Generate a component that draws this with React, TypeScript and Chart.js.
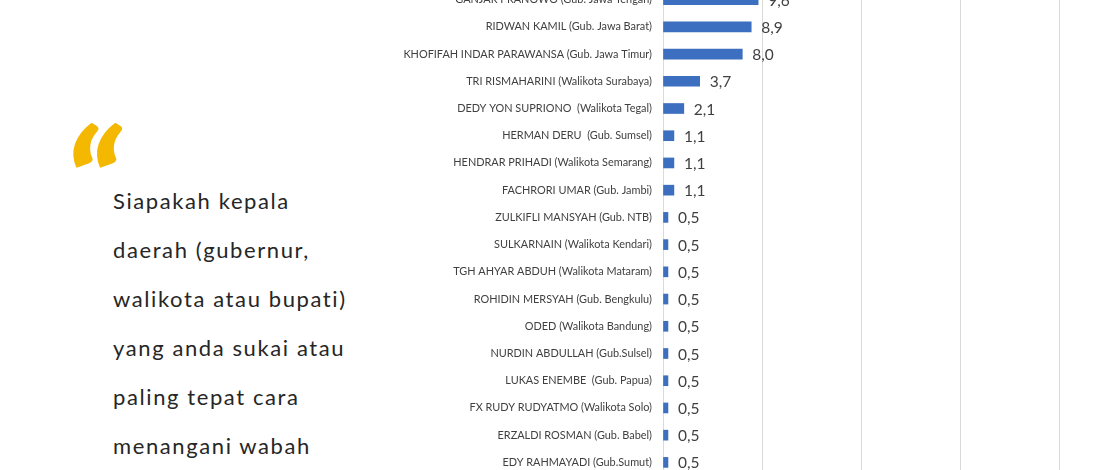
import React, { useEffect, useRef } from "react";
import { Chart, registerables } from "chart.js";

Chart.register(...registerables);

const categories: string[] = [
  "GANJAR PRANOWO (Gub. Jawa Tengah)",
  "RIDWAN KAMIL (Gub. Jawa Barat)",
  "KHOFIFAH INDAR PARAWANSA (Gub. Jawa Timur)",
  "TRI RISMAHARINI (Walikota Surabaya)",
  "DEDY YON SUPRIONO  (Walikota Tegal)",
  "HERMAN DERU  (Gub. Sumsel)",
  "HENDRAR PRIHADI (Walikota Semarang)",
  "FACHRORI UMAR (Gub. Jambi)",
  "ZULKIFLI MANSYAH (Gub. NTB)",
  "SULKARNAIN (Walikota Kendari)",
  "TGH AHYAR ABDUH (Walikota Mataram)",
  "ROHIDIN MERSYAH (Gub. Bengkulu)",
  "ODED (Walikota Bandung)",
  "NURDIN ABDULLAH (Gub.Sulsel)",
  "LUKAS ENEMBE  (Gub. Papua)",
  "FX RUDY RUDYATMO (Walikota Solo)",
  "ERZALDI ROSMAN (Gub. Babel)",
  "EDY RAHMAYADI (Gub.Sumut)",
];

const values: number[] = [
  9.6, 8.9, 8.0, 3.7, 2.1, 1.1, 1.1, 1.1, 0.5, 0.5, 0.5, 0.5, 0.5, 0.5, 0.5, 0.5, 0.5, 0.5,
];

const questionLines: string[] = [
  "Siapakah kepala",
  "daerah (gubernur,",
  "walikota atau bupati)",
  "yang anda sukai atau",
  "paling tepat cara",
  "menangani wabah",
];

const xMin = 0;
const xMax = 45;
const xStep = 10;

const valueLabelPlugin = {
  id: "valueLabels",
  afterDatasetsDraw(chart: any) {
    const ctx = chart.ctx;
    const meta = chart.getDatasetMeta(0);
    ctx.save();
    ctx.font = "15.5px Lato";
    ctx.fillStyle = "#404040";
    ctx.textAlign = "left";
    ctx.textBaseline = "middle";
    meta.data.forEach((bar: any, i: number) => {
      const v = chart.data.datasets[0].data[i] as number;
      ctx.fillText(v.toFixed(1).replace(".", ","), bar.x + 10, bar.y + 1);
    });
    ctx.restore();
  },
};

function BarChart() {
  const ref = useRef<HTMLCanvasElement | null>(null);
  useEffect(() => {
    if (!ref.current) return;
    const chart = new Chart(ref.current, {
      type: "bar",
      data: {
        labels: categories,
        datasets: [
          {
            data: values,
            backgroundColor: "#3d6fc0",
            barThickness: 10,
          },
        ],
      },
      options: {
        indexAxis: "y",
        animation: false,
        responsive: false,
        maintainAspectRatio: false,
        layout: { padding: 0 },
        plugins: {
          legend: { display: false },
          tooltip: { enabled: false },
        },
        scales: {
          x: {
            min: xMin,
            max: xMax,
            ticks: { display: false, stepSize: xStep },
            border: { display: false },
            afterFit: (scale: any) => {
              scale.height = 0;
            },
            grid: {
              drawTicks: false,
              color: (c: any) =>
                c.tick && (c.tick.value === xMin || c.tick.value === xMax)
                  ? "rgba(0,0,0,0)"
                  : "#d9d9d9",
            },
          },
          y: {
            afterFit: (scale: any) => {
              scale.width = 293;
              scale.paddingTop = 0;
              scale.paddingBottom = 0;
            },
            border: { display: true, color: "#d3dcec", width: 1 },
            grid: { display: false, drawTicks: false },
            ticks: {
              padding: 11,
              color: "#404040",
              font: { family: "Lato", size: 10.9 },
              autoSkip: false,
            },
          },
        },
      },
      plugins: [valueLabelPlugin],
    });
    return () => chart.destroy();
  }, []);
  return (
    <canvas
      ref={ref}
      width={739}
      height={490}
      style={{ position: "absolute", left: 370, top: -14, width: 739, height: 490 }}
    />
  );
}

export default function App() {
  return (
    <div
      style={{
        position: "fixed",
        left: 0,
        top: 0,
        width: 1110,
        height: 470,
        overflow: "hidden",
        background: "#ffffff",
      }}
    >
      <div
        style={{
          position: "absolute",
          left: 63,
          top: 108,
          fontFamily: "Lato",
          fontWeight: 900,
          fontStyle: "italic",
          fontSize: 150,
          lineHeight: "150px",
          color: "#f5b800",
        }}
      >
        “
      </div>
      {questionLines.map((line, i) => (
        <div
          key={i}
          style={{
            position: "absolute",
            left: 113,
            top: 187 + i * 49,
            fontFamily: "Lato",
            fontSize: 22,
            letterSpacing: "1.6px",
            lineHeight: "28px",
            color: "#262626",
            whiteSpace: "nowrap",
          }}
        >
          {line}
        </div>
      ))}
      <BarChart />
    </div>
  );
}
